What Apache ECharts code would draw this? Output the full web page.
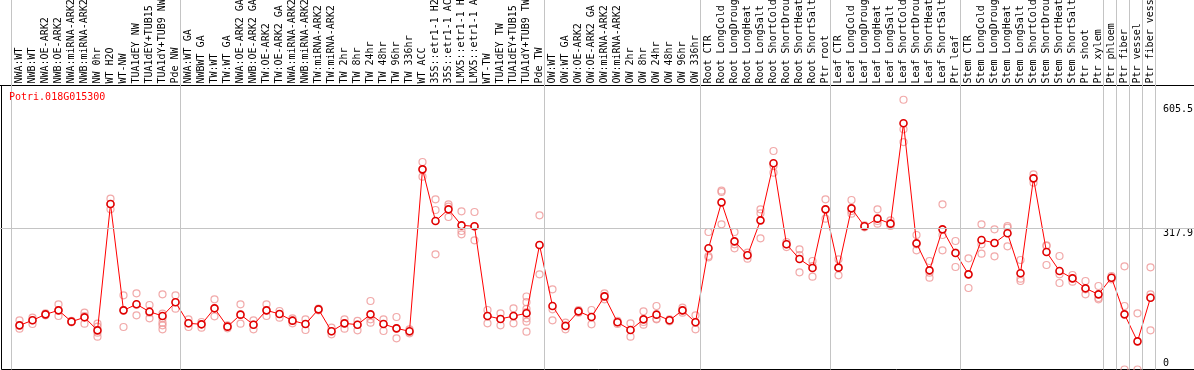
<!DOCTYPE html>
<html>
<head>
<meta charset="utf-8">
<script src="https://cdn.jsdelivr.net/npm/echarts@6/dist/echarts.min.js"></script>
<style>
html,body{margin:0;padding:0;background:#fff;}
#chart{width:1194px;height:370px;}
</style>
</head>
<body>
<div id="chart"></div>
<script>
const chartTitle = 'Potri.018G015300';

const categories = [
  'NWA:WT','NWB:WT','NWA:OE-ARK2','NWB:OE-ARK2','NWA:miRNA-ARK2','NWB:miRNA-ARK2','NW 0hr','WT H2O','WT-NW','TUA1dEY NW',
  'TUA1dEY+TUB15 NW','TUA1dY+TUB9 NW','Pde NW','NWA:WT GA','NWBWT GA','TW:WT','TW:WT GA','NWA:OE-ARK2 GA','NWB:OE-ARK2 GA','TW:OE-ARK2',
  'TW:OE-ARK2 GA','NWA:miRNA-ARK2','NWB:miRNA-ARK2','TW:miRNA-ARK2','TW:miRNA-ARK2','TW 2hr','TW 8hr','TW 24hr','TW 48hr','TW 96hr',
  'TW 336hr','WT ACC','35S::etr1-1 H2O','35S::etr1-1 ACC','LMX5::etr1-1 H2O','LMX5::etr1-1 ACC','WT-TW','TUA1dEY TW','TUA1dEY+TUB15 TW','TUA1dY+TUB9 TW',
  'Pde TW','OW:WT','OW:WT GA','OW:OE-ARK2','OW:OE-ARK2 GA','OW:miRNA-ARK2','OW:miRNA-ARK2','OW 2hr','OW 8hr','OW 24hr',
  'OW 48hr','OW 96hr','OW 336hr','Root CTR','Root LongCold','Root LongDrought','Root LongHeat','Root LongSalt','Root ShortCold','Root ShortDrought',
  'Root ShortHeat','Root ShortSalt','Ptr root','Leaf CTR','Leaf LongCold','Leaf LongDrought','Leaf LongHeat','Leaf LongSalt','Leaf ShortCold','Leaf ShortDrought',
  'Leaf ShortHeat','Leaf ShortSalt','Ptr leaf','Stem CTR','Stem LongCold','Stem LongDrought','Stem LongHeat','Stem LongSalt','Stem ShortCold','Stem ShortDrought',
  'Stem ShortHeat','Stem ShortSalt','Ptr shoot','Ptr xylem','Ptr phloem','Ptr fiber','Ptr vessel','Ptr fiber vessel'
];

const meanValues = [
  99.1,110.4,123.8,132.8,107.4,117.1,87.9,371.5,132.8,146.3,
  129.8,120.1,150.8,103.7,101.4,137.3,96.2,123.1,100.6,132.8,
  124.6,109.6,102.1,135.0,85.7,103.6,100.6,123.8,102.1,92.4,
  85.7,449.3,333.3,359.5,323.6,321.4,120.1,113.4,120.1,126.1,
  279.5,142.5,97.6,130.5,117.8,164.2,105.9,88.7,112.6,123.1,
  110.4,132.8,105.9,272.0,375.2,287.7,256.3,334.8,462.8,281.0,
  248.0,227.9,359.5,228.6,361.7,321.4,338.6,327.4,552.6,283.2,
  222.6,314.6,261.5,213.6,290.8,284.0,305.7,215.9,429.1,263.8,
  221.1,204.6,182.2,168.7,206.1,123.8,63.2,161.2
];

const replicateValues = [
  [110.4,99.1,91.7],[116.3,110.4,102.1],[126.1,123.1,121.6],[146.3,132.8,120.1],[109.0,107.5,106.0],
  [127.6,120.1,102.9],[102.9,96.1,82.7,73.7],[383.5,371.5,359.5],[166.5,133.6,95.4],[171.0,145.6,121.6],
  [144.8,127.6,114.9],[168.7,125.3,114.9,105.1,99.1,90.2],[166.5,151.5,136.6],[112.6,103.6,95.4],[106.6,101.4,93.9],
  [157.5,137.3,119.4],[99.1,96.1,92.4],[146.3,123.1,102.9],[110.4,100.6,90.2],[146.3,132.8,120.1],
  [131.3,124.6,116.3],[114.9,109.6,103.6],[112.6,102.1,88.7],[136.6,135.0,132.8],[93.9,85.7,78.9],
  [112.6,103.6,91.7],[109.0,100.6,87.9],[153.8,112.6,105.1],[112.6,102.1,86.4],[117.8,92.4,70.0],
  [90.2,84.2,81.2],[465.8,449.3,432.9],[382.0,358.0,258.5],[370.7,365.5,342.3],[355.0,310.9,303.4],
  [353.5,321.4,289.9],[133.6,120.1,103.6],[126.1,113.4,99.1],[137.3,120.1,103.6],[163.9,151.2,136.2,128.7,114.9,107.4,84.9],
  [346.1,279.5,213.6],[179.9,135.0,110.4],[105.1,99.1,90.2],[133.6,130.5,127.6],[133.6,117.8,101.4],
  [171.0,164.2,157.5],[109.0,106.0,102.1],[103.6,88.7,73.7],[130.5,106.6,100.6],[142.5,114.1,112.6],
  [112.6,110.4,108.1],[138.8,132.8,127.6],[121.6,105.9,90.2],[308.6,254.8,251.8],[401.4,398.4,325.9],
  [308.6,280.9,272.0],[262.3,256.3,248.8],[359.5,350.5,294.4],[490.5,456.8,441.8],[286.2,280.9,274.9],
  [269.7,257.0,218.1],[243.5,232.3,208.4],[382.0,359.5,338.6],[247.3,228.6,211.4],[380.5,355.8,349.8],
  [323.6,321.4,319.1],[359.5,333.3,327.4],[334.8,327.4,322.1],[605.5,539.1,510.6],[301.9,280.9,267.5],
  [243.5,217.3,206.1],[370.7,301.9,267.5],[288.4,262.3,230.1],[249.5,213.6,182.9],[325.9,280.9,260.0],
  [314.6,283.9,254.0],[322.1,318.4,276.5],[245.8,203.9,198.7],[438.1,429.1,419.4],[278.7,277.2,234.6],
  [254.8,213.6,194.2],[212.1,204.6,197.2],[198.7,180.0,168.7],[187.4,160.5,157.5],[209.9,206.1,202.4],
  [231.6,142.5,0],[126.1,0],[229.3,168.7,161.2,87.9]
];

const yTickValues = [0, 317.9, 605.5];
const groupStarts = [0, 13, 41, 53, 63, 73, 84, 85, 86, 87, 88];

// ---- layout / style constants ----
const MONO = '"DejaVu Sans Mono", "Liberation Mono", monospace';
const SEP_SHIFT = 0.615;   // separators sit slightly left of the category boundary
const GRAY = '#c4c4c4';

const replicateData = [];
replicateValues.forEach((arr, i) => arr.forEach(v => replicateData.push([i, v])));
const meanData = meanValues.map((v, i) => [i, v]);

const sepLines = groupStarts.map(k => ({ xAxis: k - SEP_SHIFT }));
sepLines.push({ yAxis: yTickValues[1] });

const hiddenAxis = {
  show: false, axisLine: { show: false }, axisTick: { show: false },
  axisLabel: { show: false }, splitLine: { show: false }
};

const chart = echarts.init(document.getElementById('chart'), null, { renderer: 'canvas' });
chart.setOption({
  animation: false,
  backgroundColor: '#fff',
  title: {
    text: chartTitle,
    left: 9, top: 92, padding: 0,
    textStyle: { color: '#ff0000', fontFamily: MONO, fontSize: 10, fontWeight: 'normal' }
  },
  grid: [{
    left: -6.5, top: 0, width: 1209, bottom: 0.5,
    containLabel: false, outerBoundsMode: 'none'
  }, {
    // plot frame (left / bottom border; top border is the label axis line)
    show: true, left: 1.5, top: 85.5, width: 1220, bottom: 0.5,
    borderColor: '#000', borderWidth: 1, backgroundColor: 'rgba(0,0,0,0)',
    containLabel: false, outerBoundsMode: 'none', z: 0
  }],
  xAxis: [{
    type: 'value', position: 'top', offset: -85.5, gridIndex: 0,
    min: -2, max: 91, interval: 1,
    axisLine: { show: true, onZero: false, lineStyle: { color: '#000', width: 1 } },
    axisTick: { show: false },
    splitLine: { show: false },
    axisLabel: {
      rotate: -90, align: 'left', verticalAlign: 'middle', margin: 2,
      fontFamily: MONO, fontSize: 10, color: '#000',
      formatter: v => (categories[v] !== undefined ? categories[v] : '')
    }
  }, Object.assign({ type: 'value', gridIndex: 1, min: 0, max: 1 }, hiddenAxis)],
  yAxis: [{
    type: 'value', position: 'right', offset: -45.5, gridIndex: 0,
    min: 0, max: 829.4,
    axisLine: { show: false, onZero: false }, axisTick: { show: false }, splitLine: { show: false },
    axisLabel: {
      customValues: yTickValues,
      margin: 6, fontFamily: MONO, fontSize: 10, color: '#000', verticalAlign: 'middle',
      formatter: v => v === 0 ? '{z|0}' : (v > 400 ? '{t|' + v + '}' : '{m|' + v + '}'),
      rich: {
        z: { fontFamily: MONO, fontSize: 10, color: '#000', padding: [0, 0, 13, 0] },
        m: { fontFamily: MONO, fontSize: 10, color: '#000', padding: [11, 0, 0, 0] },
        t: { fontFamily: MONO, fontSize: 10, color: '#000', padding: [19, 0, 0, 0] }
      }
    }
  }, Object.assign({ type: 'value', gridIndex: 1, min: 0, max: 1 }, hiddenAxis)],
  series: [
    {
      type: 'line', data: [], z: 1, silent: true,
      markLine: {
        silent: true, symbol: ['none', 'none'], label: { show: false },
        lineStyle: { color: GRAY, width: 1, type: 'solid' },
        emphasis: { disabled: true },
        data: sepLines
      }
    },
    {
      type: 'scatter', data: replicateData, z: 2, silent: true,
      symbol: 'circle', symbolSize: 7,
      itemStyle: { color: 'rgba(0,0,0,0)', borderColor: '#ee9494', borderWidth: 1.2 }
    },
    {
      type: 'line', data: meanData, z: 3, silent: true,
      symbol: 'circle', symbolSize: 7, showAllSymbol: true,
      lineStyle: { color: '#ff0000', width: 1 },
      itemStyle: { color: '#ffffff', borderColor: '#e00000', borderWidth: 1.6 }
    }
  ]
});
</script>
</body>
</html>
